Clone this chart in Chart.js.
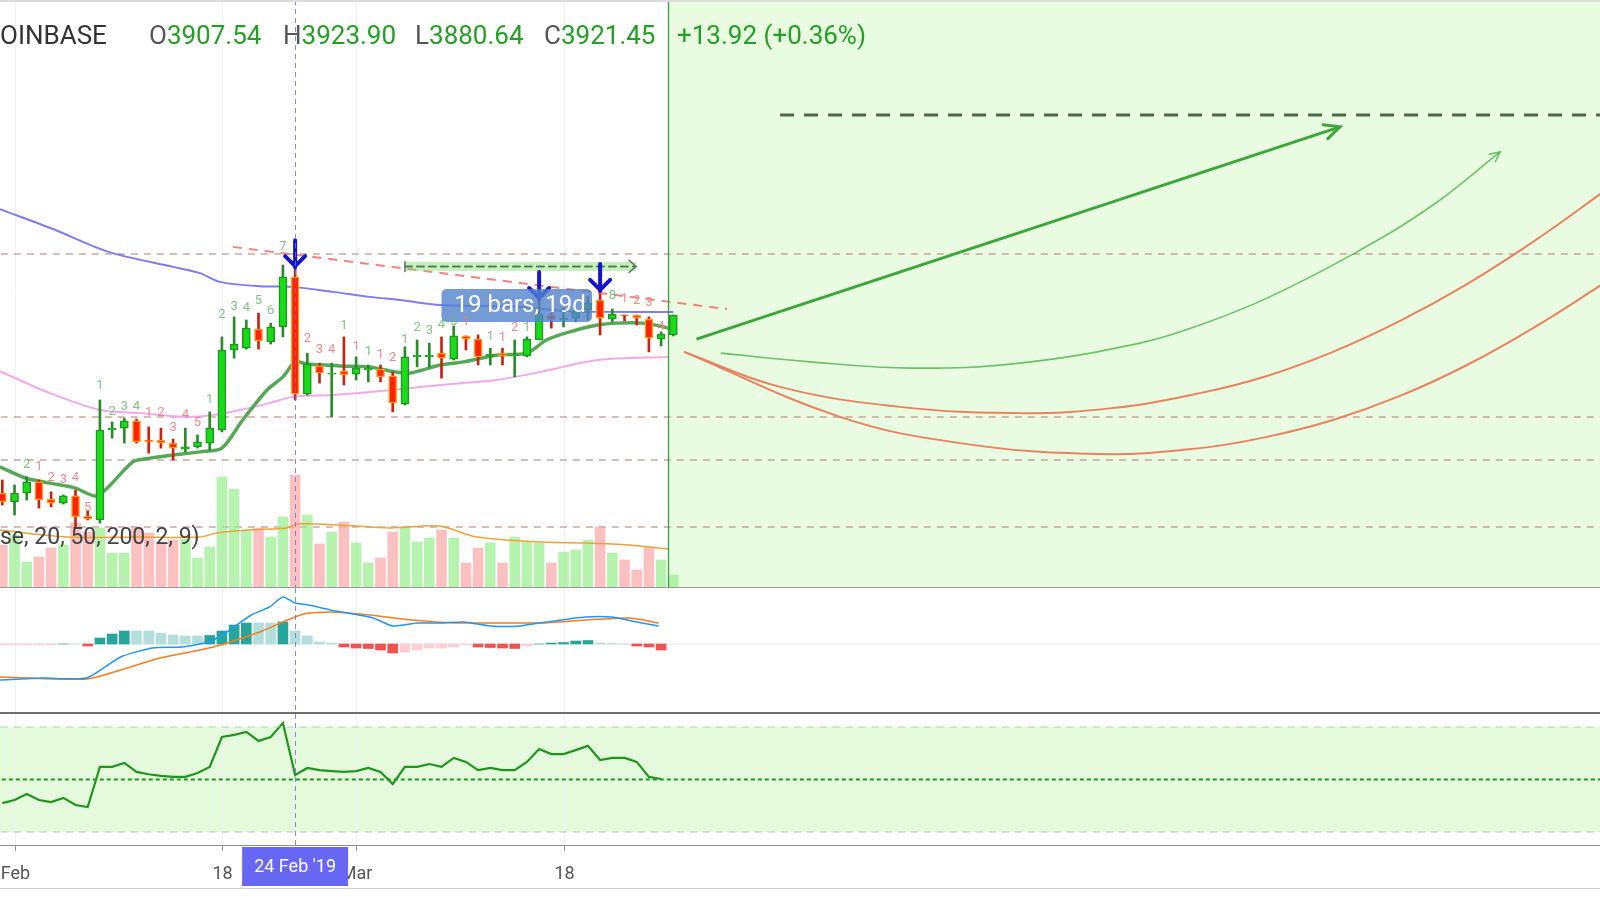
<!DOCTYPE html>
<html><head><meta charset="utf-8">
<script src="https://cdn.jsdelivr.net/npm/chart.js@4.4.1/dist/chart.umd.min.js"></script>
<style>
html,body{margin:0;padding:0;background:#fff;}
body{width:1600px;height:900px;position:relative;overflow:hidden;font-family:Roboto,"Open Sans",sans-serif;}
canvas{position:absolute;left:0;}
.hd{position:absolute;top:20px;font-size:26px;line-height:30px;white-space:nowrap;}
.g{color:#23a023}
.k{color:#555}
.sep{position:absolute;left:0;width:1600px;}
</style></head><body>
<canvas id="cMain" width="1600" height="587" style="top:0"></canvas>
<canvas id="cMacd" width="1600" height="124" style="top:588px"></canvas>
<canvas id="cRsi" width="1600" height="174" style="top:714px"></canvas>
<div class="sep" style="top:0;height:2px;background:#dcdcdc"></div>
<div class="sep" style="top:587px;height:1px;background:#9a9a9a"></div>
<div class="sep" style="top:712px;height:2px;background:#6e6e6e"></div>
<div class="sep" style="top:888px;height:1px;background:#cfcfcf"></div>
<div class="hd" style="left:0;color:#333">OINBASE</div>
<div class="hd" style="left:149px"><span class="k">O</span><span class="g">3907.54</span></div>
<div class="hd" style="left:283px"><span class="k">H</span><span class="g">3923.90</span></div>
<div class="hd" style="left:415px"><span class="k">L</span><span class="g">3880.64</span></div>
<div class="hd" style="left:544px"><span class="k">C</span><span class="g">3921.45</span></div>
<div class="hd g" style="left:677px">+13.92 (+0.36%)</div>
<div style="position:absolute;left:0;top:523px;font-size:23px;line-height:28px;color:#444;white-space:nowrap">se, 20, 50, 200, 2, 9)</div>
<script>
// ---------- data ----------
const tickDays = [0, 17, 28, 45];
const tickLabels = ['Feb', '18', 'Mar', '18'];
const crosshairDay = 23;
const crosshairLabel = "24 Feb '19";
const futureStart = 53.57;

const candleDays = [-1,0,1,2,3,4,5,6,7,8,9,10,11,12,13,14,15,16,17,18,19,20,21,22,23,24,25,26,27,28,29,30,31,32,33,34,35,36,37,38,39,40,41,42,43,44,45,46,47,48,49,50,51,52,53,54];
const open  = [3422,3394,3422,3458,3403,3390,3413,3349,3336,3624,3630,3653,3592,3592,3582,3563,3570,3582,3624,3880,3886,3947,3906,3954,4114,3739,3829,3803,3813,3803,3816,3819,3797,3707,3858,3858,3870,3851,3925,3915,3861,3870,3861,3861,3912,3992,3976,3982,4008,4040,3979,3992,3992,3979,3915,3928];
const high  = [3464,3448,3474,3464,3426,3416,3432,3365,3720,3650,3662,3659,3634,3630,3595,3630,3608,3682,3922,3986,3976,3998,3966,4152,4142,3870,3838,3838,3922,3858,3832,3832,3810,3890,3912,3902,3922,3957,3925,3928,3886,3886,3912,3922,4040,3998,4014,4014,4053,4066,4011,3992,3992,3986,3938,3992];
const low   = [3384,3352,3400,3374,3378,3387,3314,3336,3326,3598,3582,3582,3550,3566,3528,3554,3566,3560,3618,3854,3883,3883,3899,3922,3720,3736,3774,3666,3768,3784,3778,3778,3682,3704,3826,3826,3790,3848,3880,3832,3832,3832,3794,3858,3912,3950,3954,3970,3976,3928,3970,3973,3960,3874,3893,3925];
const close = [3394,3422,3458,3400,3390,3413,3346,3339,3624,3630,3653,3586,3586,3582,3566,3570,3586,3630,3880,3899,3950,3909,3954,4114,3739,3835,3806,3806,3800,3822,3822,3794,3710,3858,3864,3864,3854,3925,3915,3858,3867,3861,3864,3915,3995,3976,3982,4005,4030,3982,3995,3989,3982,3918,3931,3992];
const volume = [8.4,10.4,5.0,6.0,7.8,8.4,12.8,11.0,11.8,6.8,6.8,11.8,10.8,9.0,9.4,9.6,5.8,8.0,22.0,19.6,11.4,11.8,10.0,14.0,22.4,14.4,8.6,11.0,13.0,8.8,4.8,5.8,11.0,12.0,9.0,9.8,11.4,9.8,4.8,7.8,8.8,4.8,10.0,9.0,8.8,4.8,7.0,7.4,9.4,12.0,6.8,5.4,3.4,8.0,5.4,2.4];

const volMaDays = [-1.2,4.3,10,15.2,16.6,19.3,22.3,23.2,26.7,30.8,34.8,37.9,43.2,46.8,50.4,53.6];
const volMa     = [11.4,10.0,10.0,10.0,10.8,11.4,11.8,12.6,12.4,11.8,12.2,10.0,9.0,8.8,8.4,7.6];

const blueMaDays = [-1.2,3.1,7.7,13,15.2,16.8,20.1,22.8,26.1,29.1,31.6,34.9,41.4,45,48,54];
const blueMa     = [4331,4268,4194,4146,4126,4098,4084,4082,4066,4050,4040,4024,4018,4005,4002,4002];
const pinkMaDays = [-1.2,2.9,7,10.3,14.1,16.3,18.5,20.9,22.8,26.1,31,34.9,39.5,43.1,47.8,53.6];
const pinkMa     = [3812,3742,3688,3678,3666,3672,3688,3710,3730,3736,3752,3768,3784,3810,3848,3858];
const greenMaDays = [-1.2,0.9,2.9,5,6.8,9.7,11.1,13,15.2,17,18.7,20.7,22,23,24,26.7,29.1,31.2,32.4,34.9,36.8,39.6,42,43.6,45.5,47.8,49.4,51.5,53.2,54];
const greenMa     = [3506,3470,3454,3438,3413,3522,3534,3544,3554,3566,3656,3752,3794,3842,3835,3829,3826,3810,3806,3832,3842,3864,3870,3912,3938,3960,3966,3966,3954,3944];

const levels = [4187, 3666, 3528, 3314];
const trendDays = [17.9, 58.4];
const trendVals = [4210, 4011];
const targetDays = [62.75, 131];
const targetVals = [4632, 4632];
const straightDays = [55.9, 108.65];
const straightVals = [3915, 4594];
const curveGDays = [57.91,65.2,73.57,82.42,92.25,97.17,102.66,110.04,116.27,121.77];
const curveGVals = [3870,3842,3822,3838,3902,3960,4046,4194,4344,4514];
const curveADays = [54.88,62.75,72.58,82.42,89.96,97.17,102.66,108.07,113.57,119.06,124.47,130.46];
const curveAVals = [3874,3762,3698,3678,3694,3742,3797,3874,3973,4091,4226,4392];
const curveBDays = [54.88,67.66,77.5,88.81,97.17,102.66,108.07,113.57,119.06,124.47,130.46];
const curveBVals = [3874,3666,3582,3547,3566,3602,3656,3733,3832,3950,4098];

const signalArrowDays = [23, 43, 48];
const measureDays = [32, 50.95];
const measureVals = [4162, 4133];
const boxDays = [35, 47.34];
const boxVals = [4075, 3970];
const boxText = '19 bars, 19d';

const tdDays = [1,2,3,4,5,6, 7,8,9,10,11,12,13,14,15,16, 17,18,19,20,21,22, 24,25,26,27,28,29,30,31,32,33,34,35, 36,37,39,40,41,42, 49,50,51,52,53];
const tdVals = [3512,3506,3470,3464,3470,3374, 3765,3682,3698,3698,3678,3678,3630,3672,3646,3720, 3992,4018,4014,4037,4005,4210, 3915,3880,3880,3957,3890,3874,3864,3854,3912,3950,3941,3960, 3970,3970,3922,3918,3950,3950, 4053,4043,4037,4030,3954];
const tdText = ['2','1','2','3','4','5', '1','2','3','4','1','2','3','4','5','1', '2','3','4','5','6','7', '2','3','4','1','1','1','1','2','1','2','3','4', '5','1','1','1','2','1', '8','1','2','3','4'];
const tdUp = [1,0,0,0,0,0, 1,1,1,1,0,0,0,0,0,1, 1,1,1,1,1,1, 0,0,0,1,0,1,0,0,1,1,1,1, 1,0,1,0,0,1, 1,0,0,0,0];

const oscDays = [-1,0,1,2,3,4,5,6,7,8,9,10,11,12,13,14,15,16,17,18,19,20,21,22,23,24,25,26,27,28,29,30,31,32,33,34,35,36,37,38,39,40,41,42,43,44,45,46,47,48,49,50,51,52,53];
const macdHist = [-2,-2,-2,-2,-2,0,0,-4,12,20,26,26,26,22,18,16,16,17,26,38,42,42,42,44,26,16,4,2,-6,-8,-9,-12,-18,-16,-12,-8,-8,-6,-1,-6,-7,-8,-9,-4,0,2,3,6,7,2,1,0,-4,-6,-12];
const macdDays = [-1.2,2.3,5.9,8.7,11.3,13.7,15.9,17.3,19.4,20.9,22,23,24.1,25.9,29.4,31,33,35,36.8,39,41.4,43.6,46.8,48.9,51,52.8];
const macdLine = [-72,-68,-68,-26,-8,-6,4,22,58,74,94,82,78,68,52,36,42,42,44,36,36,44,54,54,44,36];
const signalDays = [-1.2,5.9,9.5,11.9,15.2,16.9,20.1,22,23.7,25.9,29.1,32.6,36.1,39.7,43.2,46.8,50.4,52.8];
const signalLine = [-66,-70,-46,-28,-12,-2,24,44,60,64,58,48,42,42,42,48,52,42];
const rsi = [41.0,42.2,44.5,42.2,41.4,43.0,40.3,39.5,54.8,54.8,56.3,52.9,52.0,51.4,51.0,51.0,52.5,54.8,66.2,67.0,68.1,64.7,66.2,71.5,51.7,54.4,53.6,53.2,52.9,53.2,54.4,52.9,48.3,54.8,54.8,55.9,54.8,58.2,56.7,53.6,54.4,53.6,53.6,56.7,61.6,59.7,59.7,61.2,62.8,57.4,58.2,58.2,56.7,51.0,50.2];
const rsiBands = [70, 50, 30];

// ---------- axis ranges ----------
const xMin = -1.19, xMax = 129.96;
const priceMin = 3121.6, priceMax = 5000;
const volMax = 117.4;
const macdMin = -136, macdMax = 112;
const rsiMin = 25.05, rsiMax = 74.95;

const pts = (xs, ys) => xs.map((x, i) => ({x, y: ys[i]}));
const isUp = candleDays.map((d, i) => close[i] >= open[i]);
const xScale = {type:'linear', min:xMin, max:xMax, display:false, offset:false, grid:{display:false}};
const common = {responsive:false, animation:false, events:[], devicePixelRatio:1, layout:{padding:0},
  plugins:{legend:{display:false}, tooltip:{enabled:false}},
  datasets:{bar:{grouped:false}, line:{pointRadius:0, fill:false}}};

function vgrid(chart){
  const {ctx, chartArea:a, scales:{x}} = chart;
  ctx.save(); ctx.strokeStyle = '#eef1f7'; ctx.lineWidth = 1;
  tickDays.forEach(d => { const px = Math.round(x.getPixelForValue(d)) + 0.5;
    ctx.beginPath(); ctx.moveTo(px, a.top); ctx.lineTo(px, a.bottom); ctx.stroke(); });
  ctx.restore();
}
function crosshair(chart, extra){
  const {ctx, chartArea:a, scales:{x}} = chart;
  const px = Math.round(x.getPixelForValue(crosshairDay)) + 0.5;
  ctx.save(); ctx.strokeStyle = 'rgba(105,105,225,0.8)'; ctx.lineWidth = 1; ctx.setLineDash([5,4]);
  ctx.beginPath(); ctx.moveTo(px, a.top); ctx.lineTo(px, a.bottom + (extra||0)); ctx.stroke(); ctx.restore();
}

// ---------- main pane ----------
const mainPlugin = {
  id:'mainDecor',
  beforeDatasetsDraw(chart){
    const {ctx, chartArea:a, scales:{x}} = chart;
    const xf = x.getPixelForValue(futureStart);
    ctx.save(); ctx.fillStyle = '#e9fbe0'; ctx.fillRect(xf, a.top, a.right - xf, a.bottom - a.top); ctx.restore();
    vgrid(chart);
  },
  afterDatasetsDraw(chart){
    const {ctx, chartArea:a, scales:{x, y}} = chart;
    ctx.save();
    // arrowheads on drawn lines
    chart.data.datasets.forEach((ds, i) => {
      if (!ds.arrowSize) return;
      const el = chart.getDatasetMeta(i).data; const p = el[el.length - 1];
      let qx, qy;
      if (p.cp1x !== undefined && Math.hypot(p.cp1x - p.x, p.cp1y - p.y) > 2) { qx = p.cp1x; qy = p.cp1y; }
      else { qx = el[el.length - 2].x; qy = el[el.length - 2].y; }
      const ang = Math.atan2(p.y - qy, p.x - qx), s = ds.arrowSize;
      ctx.strokeStyle = ds.borderColor; ctx.lineWidth = ds.borderWidth; ctx.setLineDash([]); ctx.lineCap = 'round';
      ctx.beginPath();
      ctx.moveTo(p.x - s * Math.cos(ang - 0.45), p.y - s * Math.sin(ang - 0.45));
      ctx.lineTo(p.x, p.y);
      ctx.lineTo(p.x - s * Math.cos(ang + 0.45), p.y - s * Math.sin(ang + 0.45));
      ctx.stroke();
    });
    // measure band
    const mx0 = x.getPixelForValue(measureDays[0]), mx1 = x.getPixelForValue(measureDays[1]);
    const my0 = y.getPixelForValue(measureVals[0]), my1 = y.getPixelForValue(measureVals[1]);
    ctx.fillStyle = 'rgba(120,225,105,0.45)'; ctx.fillRect(mx0, my0, mx1 - mx0, my1 - my0);
    const mym = (my0 + my1) / 2;
    ctx.strokeStyle = '#5c7a5c'; ctx.lineWidth = 2; ctx.setLineDash([7,5]);
    ctx.beginPath(); ctx.moveTo(mx0, mym); ctx.lineTo(mx1, mym); ctx.stroke(); ctx.setLineDash([]);
    ctx.lineWidth = 1.5; ctx.beginPath(); ctx.moveTo(mx0, mym - 5); ctx.lineTo(mx0, mym + 5);
    ctx.moveTo(mx1 - 7, mym - 6); ctx.lineTo(mx1, mym); ctx.lineTo(mx1 - 7, mym + 6); ctx.stroke();
    // blue signal arrows
    const drawArrow = (d, col) => {
      const i = candleDays.indexOf(d); const px = x.getPixelForValue(d); const ty = y.getPixelForValue(high[i]) - 1;
      ctx.strokeStyle = col; ctx.lineWidth = 4; ctx.lineCap = 'round'; ctx.lineJoin = 'round';
      ctx.beginPath(); ctx.moveTo(px, ty - 27); ctx.lineTo(px, ty);
      ctx.moveTo(px - 10, ty - 11); ctx.lineTo(px, ty - 1); ctx.lineTo(px + 10, ty - 11); ctx.stroke();
    };
    drawArrow(signalArrowDays[1], '#1717c8');
    // info box
    const bx0 = x.getPixelForValue(boxDays[0]), bx1 = x.getPixelForValue(boxDays[1]);
    const by0 = y.getPixelForValue(boxVals[0]), by1 = y.getPixelForValue(boxVals[1]);
    ctx.fillStyle = 'rgba(82,130,205,0.8)';
    ctx.beginPath(); ctx.roundRect(bx0, by0, bx1 - bx0, by1 - by0, 5); ctx.fill();
    ctx.fillStyle = '#fff'; ctx.font = '24px Roboto'; ctx.textBaseline = 'middle'; ctx.textAlign = 'left';
    ctx.fillText(boxText, bx0 + 13, (by0 + by1) / 2 + 1);
    drawArrow(signalArrowDays[0], '#1414cc');
    drawArrow(signalArrowDays[2], '#1414cc');
    // sequential counts
    ctx.font = '13px Roboto'; ctx.textAlign = 'center'; ctx.textBaseline = 'middle';
    tdDays.forEach((d, i) => {
      ctx.fillStyle = tdUp[i] ? 'rgba(105,185,105,0.85)' : 'rgba(238,125,125,0.9)';
      ctx.fillText(tdText[i], x.getPixelForValue(d), y.getPixelForValue(tdVals[i]));
    });
    // future boundary
    const xf = Math.round(x.getPixelForValue(futureStart)) + 0.5;
    ctx.strokeStyle = '#3d9d3d'; ctx.lineWidth = 1.3;
    ctx.beginPath(); ctx.moveTo(xf, a.top); ctx.lineTo(xf, a.bottom); ctx.stroke();
    ctx.restore();
    crosshair(chart);
  }
};

const lineDs = (xs, ys, col, w, extra) => Object.assign({type:'line', data:pts(xs, ys), borderColor:col, borderWidth:w, pointRadius:0, yAxisID:'y'}, extra || {});
const smooth = {tension:0.4, order:30};

new Chart(document.getElementById('cMain'), {
  type:'bar',
  data:{datasets:[
    ...levels.map(v => lineDs([xMin - 1, xMax + 1], [v, v], 'rgba(185,135,125,0.75)', 1.5, {borderDash:[7,6], order:100})),
    {type:'bar', yAxisID:'yVol', data:pts(candleDays, volume), barThickness:10,
      backgroundColor:isUp.map(u => u ? 'rgba(150,238,140,0.7)' : 'rgba(250,165,165,0.7)'), order:95},
    lineDs(volMaDays, volMa, '#f0a23a', 1.5, {yAxisID:'yVol', tension:0.3, order:90}),
    lineDs(pinkMaDays, pinkMa, '#f3a8ee', 2, {tension:0.3, order:82}),
    lineDs(blueMaDays, blueMa, '#7d7ded', 2, {tension:0.3, order:81}),
    lineDs(greenMaDays, greenMa, '#55a855', 3.5, {tension:0.25, order:80}),
    {type:'bar', yAxisID:'y', data:candleDays.map((d, i) => ({x:d, y:[low[i], high[i]]})), barThickness:2,
      backgroundColor:isUp.map(u => u ? '#2b8a2b' : '#c62410'), order:50},
    {type:'bar', yAxisID:'y', data:candleDays.map((d, i) => ({x:d, y:[open[i], close[i]]})), barThickness:8,
      backgroundColor:isUp.map(u => u ? '#17dc17' : '#ff2200'), borderColor:isUp.map(u => u ? '#1f961f' : '#ff9a14'),
      borderWidth:1.5, borderSkipped:false, order:49},
    lineDs(trendDays, trendVals, 'rgba(240,110,100,0.85)', 2, {borderDash:[9,7], order:40}),
    lineDs(targetDays, targetVals, '#4e684e', 3, {borderDash:[14,10], order:30}),
    lineDs(curveBDays, curveBVals, '#e8825f', 2, smooth),
    lineDs(curveADays, curveAVals, '#e8825f', 2, smooth),
    lineDs(curveGDays, curveGVals, 'rgba(85,185,85,0.85)', 1.6, Object.assign({arrowSize:11}, smooth)),
    lineDs(straightDays, straightVals, '#3ca63c', 3, {order:30, arrowSize:17})
  ]},
  options:Object.assign({}, common, {scales:{
    x:xScale,
    y:{min:priceMin, max:priceMax, display:false},
    yVol:{min:0, max:volMax, display:false}
  }}),
  plugins:[mainPlugin]
});

// ---------- MACD pane ----------
const histColors = macdHist.map((v, i) => {
  const p = i ? macdHist[i - 1] : v;
  if (v >= 0) return v > p ? '#26a69a' : '#b2dfdb';
  return v < p ? '#ef5350' : '#ffcdd2';
});
new Chart(document.getElementById('cMacd'), {
  type:'bar',
  data:{datasets:[
    {type:'line', data:pts([xMin - 1, xMax + 1], [0, 0]), borderColor:'#e4e7ee', borderWidth:1, pointRadius:0, order:100},
    {type:'bar', data:pts(oscDays, macdHist), backgroundColor:histColors, barThickness:10, order:90},
    {type:'line', data:pts(signalDays, signalLine), borderColor:'#f57c1f', borderWidth:1.5, pointRadius:0, tension:0.2, order:20},
    {type:'line', data:pts(macdDays, macdLine), borderColor:'#2196f3', borderWidth:1.5, pointRadius:0, tension:0.2, order:10}
  ]},
  options:Object.assign({}, common, {scales:{x:xScale, y:{min:macdMin, max:macdMax, display:false}}}),
  plugins:[{id:'macdDecor', beforeDatasetsDraw:vgrid, afterDatasetsDraw(c){ crosshair(c); }}]
});

// ---------- RSI pane + time axis ----------
new Chart(document.getElementById('cRsi'), {
  type:'line',
  data:{datasets:[
    {data:pts([xMin - 1, xMax + 1], [rsiBands[0], rsiBands[0]]), borderColor:'rgba(140,200,140,0.7)', borderWidth:1.2, borderDash:[7,6], pointRadius:0},
    {data:pts([xMin - 1, xMax + 1], [rsiBands[2], rsiBands[2]]), borderColor:'rgba(195,160,150,0.7)', borderWidth:1.2, borderDash:[7,6], pointRadius:0},
    {data:pts([xMin - 1, xMax + 1], [rsiBands[1], rsiBands[1]]), borderColor:'#1f9a1f', borderWidth:2, borderDash:[4,3], pointRadius:0},
    {data:pts(oscDays, rsi), borderColor:'#1e961e', borderWidth:2.2, pointRadius:0, tension:0}
  ]},
  options:Object.assign({}, common, {layout:{padding:{bottom:43}},
    scales:{x:xScale, y:{min:rsiMin, max:rsiMax, display:false}}}),
  plugins:[{id:'rsiDecor',
    beforeDatasetsDraw(chart){
      const {ctx, chartArea:a, scales:{y}} = chart;
      const y0 = y.getPixelForValue(rsiBands[0]), y1 = y.getPixelForValue(rsiBands[2]);
      ctx.save(); ctx.fillStyle = '#e5fadc'; ctx.fillRect(a.left, y0, a.right - a.left, y1 - y0); ctx.restore();
      vgrid(chart);
    },
    afterDatasetsDraw(chart){ crosshair(chart, 6); },
    afterDraw(chart){
      const {ctx, chartArea:a, scales:{x}} = chart;
      ctx.save();
      ctx.strokeStyle = '#8e8e8e'; ctx.lineWidth = 1;
      ctx.beginPath(); ctx.moveTo(a.left, a.bottom + 0.5); ctx.lineTo(a.right, a.bottom + 0.5); ctx.stroke();
      ctx.font = '18px Roboto'; ctx.fillStyle = '#555'; ctx.textAlign = 'center'; ctx.textBaseline = 'middle';
      tickDays.forEach((d, i) => {
        const px = Math.round(x.getPixelForValue(d)) + 0.5;
        ctx.beginPath(); ctx.moveTo(px, a.bottom); ctx.lineTo(px, a.bottom + 6); ctx.stroke();
        ctx.fillText(tickLabels[i], px, a.bottom + 29);
      });
      const cx = x.getPixelForValue(crosshairDay);
      ctx.fillStyle = '#6767f3'; ctx.fillRect(cx - 53, a.bottom + 2, 106, 39);
      ctx.fillStyle = '#fff'; ctx.fillText(crosshairLabel, cx, a.bottom + 22);
      ctx.restore();
    }
  }]
});
</script>
</body></html>
